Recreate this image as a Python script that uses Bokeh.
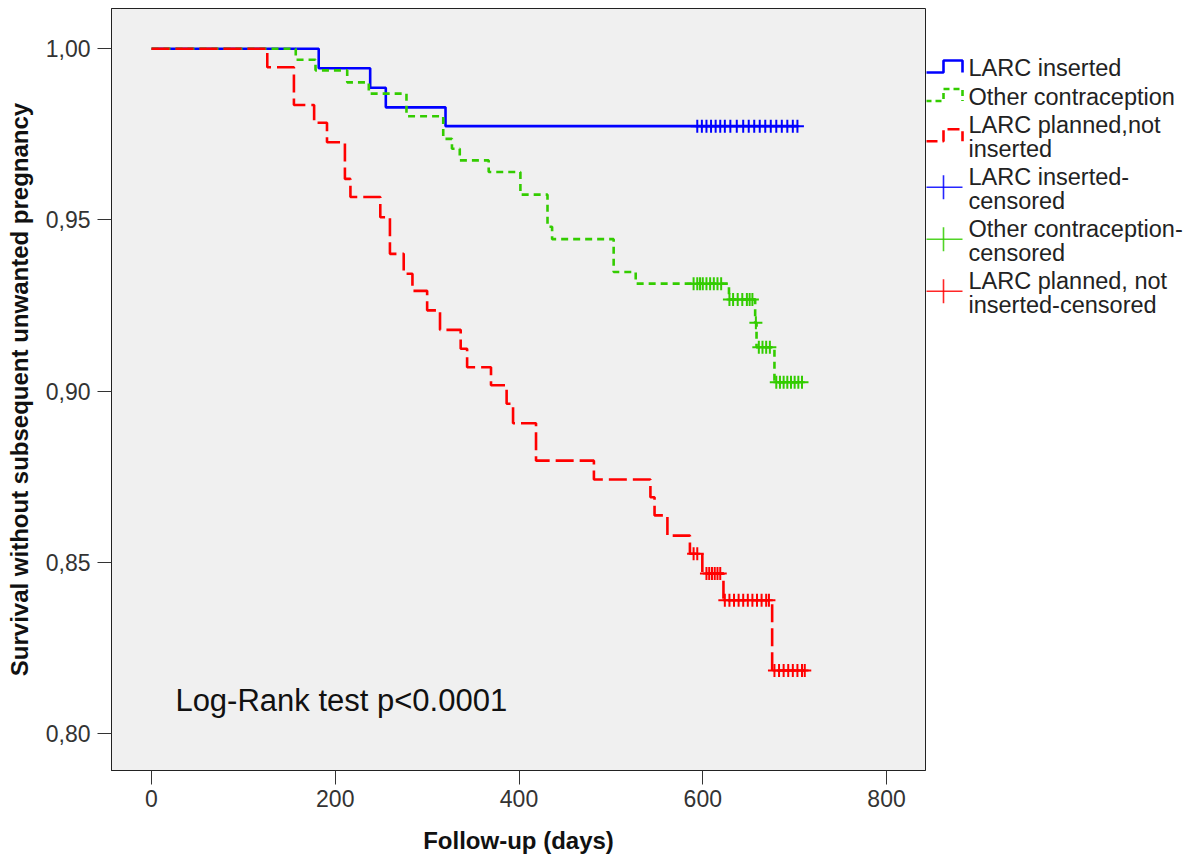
import numpy as np
from bokeh.plotting import figure
from bokeh.models import Range1d, FixedTicker, CustomJSTickFormatter, Label
from bokeh.layouts import row
from bokeh.embed import file_html
from bokeh.resources import INLINE
from bokeh.core.properties import value

# ---------------- data ----------------
# LARC inserted
blue_t = [0, 182, 238, 255, 320]
blue_s = [1.0, 0.9943, 0.9886, 0.9829, 0.9774]
blue_c = [594, 599, 604, 609, 614, 619, 624, 630, 637, 644, 650, 656, 662,
          668, 674, 680, 686, 692, 698, 703]

# Other contraception
green_t = [0, 157, 178.5, 213, 236.5, 277.5, 317.5, 327, 335.5, 367,
           401.5, 431, 436, 503, 527, 628.5, 657, 658.5, 678]
green_s = [1.0, 0.9968, 0.9937, 0.9902, 0.9869, 0.9803, 0.9737, 0.9708, 0.9674, 0.9640,
           0.9574, 0.9480, 0.9444, 0.9348, 0.9314, 0.9268, 0.9200, 0.9128, 0.9026]
green_c = [590, 594, 597, 600, 604, 608, 612, 616, 620,
           629, 633, 638, 643, 648, 651, 654, 657.8,
           661, 665, 669, 673,
           680, 684, 688, 692, 696, 700, 704, 708]

# LARC planned, not inserted
red_t = [0, 126, 155, 177, 191, 210.5, 216.5, 249, 259.5, 274.5,
         284, 300, 314, 336.5, 343.5, 369.5, 386.5, 393.5, 418.5, 481.5,
         543, 547.5, 561.5, 586, 599.5, 622.5, 675.5]
red_s = [1.0, 0.9946, 0.9836, 0.9784, 0.9727, 0.9620, 0.9567, 0.9508, 0.9401, 0.9343,
         0.9293, 0.9236, 0.9179, 0.9124, 0.9070, 0.9017, 0.8963, 0.8906, 0.8797, 0.8742,
         0.8690, 0.8637, 0.8578, 0.8525, 0.8467, 0.8389, 0.8184]
red_c = [590, 594, 604, 607, 610, 613, 616, 619,
         624, 629, 634, 639, 644, 649, 654, 659, 664, 669, 672,
         678, 683, 688, 693, 698, 703, 708, 711]

x_ticks = [0, 200, 400, 600, 800]
y_ticks = [0.80, 0.85, 0.90, 0.95, 1.00]

legend_labels = ["LARC inserted", "Other contraception", "LARC planned,not\ninserted",
                 "LARC inserted-\ncensored", "Other contraception-\ncensored",
                 "LARC planned, not\ninserted-censored"]

BLUE, GREEN, RED = "#0000ff", "#33cc00", "#ff0000"
FONT = "Liberation Sans"

# ---------------- main plot ----------------
p = figure(width=926, height=858,
           x_range=Range1d(-43.54, 842.4), y_range=Range1d(0.78919, 1.01177),
           output_backend="svg", toolbar_location=None,
           min_border_left=111, min_border_right=1, min_border_top=8, min_border_bottom=88,
           background_fill_color="#f0f0f0", border_fill_color="white",
           outline_line_color="#222222", outline_line_width=1)
p.xgrid.visible = False
p.ygrid.visible = False

series = [(blue_t, blue_s, blue_c, BLUE, None),
          (green_t, green_s, green_c, GREEN, "7 5"),
          (red_t, red_s, red_c, RED, "18 6")]

for t, s, c, col, dash in series:
    xs = list(t) + [max(c)]
    ys = list(s) + [s[-1]]
    kw = {}
    if dash:
        kw["line_dash"] = dash
    p.step(xs, ys, mode="after", line_color=col, line_width=2.6, **kw)
    idx = np.searchsorted(np.array(t, dtype=float), np.array(c, dtype=float), side="right") - 1
    cy = [s[i] for i in idx]
    p.scatter(c, cy, marker="cross", size=13, line_color=col, line_width=2)

for ax in (p.xaxis[0], p.yaxis[0]):
    ax.major_tick_out = 14
    ax.major_tick_in = 0
    ax.minor_tick_out = 0
    ax.minor_tick_in = 0
    ax.axis_line_color = "#222222"
    ax.major_tick_line_color = "#333333"
    ax.major_label_text_font = FONT
    ax.major_label_text_font_size = "23px"
    ax.major_label_text_color = "#333333"
    ax.axis_label_text_font = FONT
    ax.axis_label_text_font_style = "bold"
    ax.axis_label_text_font_size = "24px"
    ax.axis_label_text_color = "#111111"

p.xaxis.ticker = FixedTicker(ticks=x_ticks)
p.yaxis.ticker = FixedTicker(ticks=y_ticks)
p.yaxis.formatter = CustomJSTickFormatter(code="return tick.toFixed(2).replace('.', ',');")
p.xaxis.axis_label = "Follow-up (days)"
p.yaxis.axis_label = "Survival without subsequent unwanted pregnancy"
p.xaxis.major_label_standoff = 5
p.yaxis.major_label_standoff = 7
p.xaxis.axis_label_standoff = 17
p.yaxis.axis_label_standoff = 10

p.add_layout(Label(x=26, y=0.8097, text="Log-Rank test p<0.0001",
                   text_font=FONT, text_font_size="31px", text_baseline="middle",
                   text_color="#111111"))

# ---------------- legend panel ----------------
# (the row aligns this panel's frame with the main frame: page y 8..770)
leg = figure(width=264, height=858, x_range=Range1d(0, 264), y_range=Range1d(770, 8),
             output_backend="svg", toolbar_location=None, x_axis_type=None, y_axis_type=None,
             min_border=0, outline_line_color=None,
             background_fill_color="white", border_fill_color="white")
leg.grid.visible = False

sym_colors = [BLUE, GREEN, RED, BLUE, GREEN, RED]
sym_dash = ["solid", "6 4", "12 5", None, None, None]
y = 67.5
text_x, text_y, text_s = [], [], []
for lab, col, dash in zip(legend_labels, sym_colors, sym_dash):
    lines = lab.split("\n")
    ys = [y + k * 23.5 for k in range(len(lines))]
    for ln, yy in zip(lines, ys):
        text_x.append(42)
        text_y.append(yy)
        text_s.append(ln)
    cyc = float(np.mean(ys)) - 1.5
    if dash is not None:
        leg.line([-1, 17, 17, 36, 36], [cyc + 6, cyc + 6, cyc - 6, cyc - 6, cyc + 6],
                 line_color=col, line_width=2.6, line_dash=dash)
    else:
        leg.segment(x0=[-1, 17], y0=[cyc, cyc - 12], x1=[36, 17], y1=[cyc, cyc + 12],
                    line_color=col, line_width=1.6, line_alpha=0.85)
    y = ys[-1] + 28.5

leg.text(x=text_x, y=text_y, text=text_s, text_font=value(FONT), text_font_size="23.5px",
         text_baseline="middle", text_align="left", text_color="#222222")

layout = row(p, leg)
open("out.html", "w").write(file_html(layout, INLINE))
